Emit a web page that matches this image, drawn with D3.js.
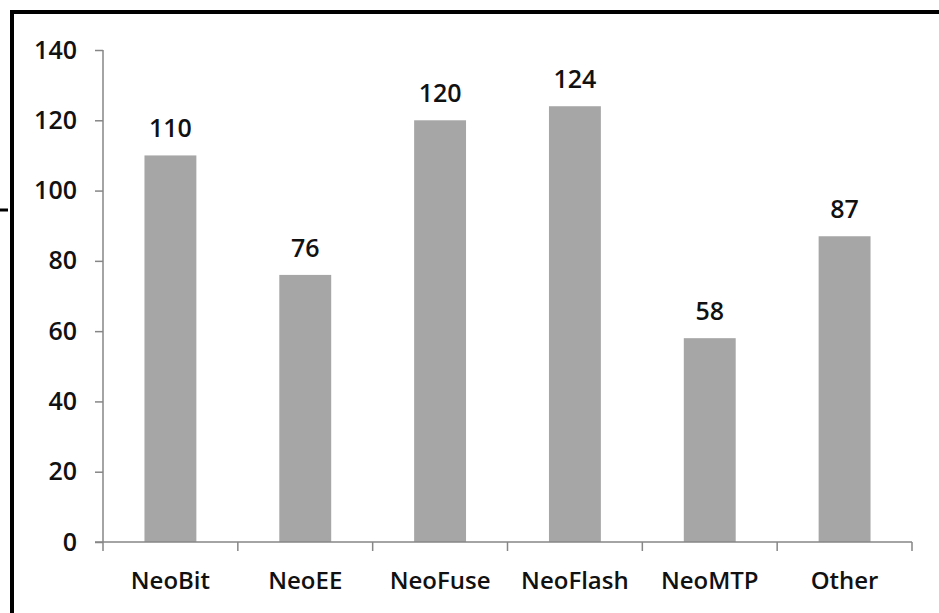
<!DOCTYPE html>
<html><head><meta charset="utf-8">
<script src="https://cdn.jsdelivr.net/npm/d3@7"></script>
<style>body{margin:0;background:#fff;} svg{display:block;}</style>
</head><body>
<svg id="c" width="939" height="613"></svg>
<script>
const categories = ["NeoBit","NeoEE","NeoFuse","NeoFlash","NeoMTP","Other"];
const values = [110, 76, 120, 124, 58, 87];
const yTicks = [0,20,40,60,80,100,120,140];

const svg = d3.select("#c");
const font = "'Open Sans', sans-serif";

// frame
svg.append("line").attr("x1",10).attr("x2",939).attr("y1",12).attr("y2",12).attr("stroke","#000").attr("stroke-width",4);
svg.append("line").attr("x1",12).attr("x2",12).attr("y1",10).attr("y2",613).attr("stroke","#000").attr("stroke-width",4);
svg.append("line").attr("x1",0).attr("x2",8).attr("y1",210).attr("y2",210).attr("stroke","#000").attr("stroke-width",3);

const x = d3.scaleBand().domain(categories).range([103,912]).paddingInner(0.615).paddingOuter(0.3075);
const xb = d3.scaleBand().domain(categories).range([103,912]);
const y = d3.scaleLinear().domain([0,140]).range([542,50]);
const axisColor = "#868686";

// y axis
const ya = svg.append("g").attr("transform","translate(103,0)")
  .call(d3.axisLeft(y).tickValues(yTicks).tickSize(8).tickPadding(18));
ya.select(".domain").attr("stroke",axisColor).attr("stroke-width",1.5).attr("d","M0,50V542");
ya.selectAll(".tick line").attr("stroke",axisColor).attr("stroke-width",1.5);
ya.selectAll(".tick text").attr("fill","#111").attr("font-family",font).attr("font-weight",600).attr("font-size",25);

// bars
svg.append("g").selectAll("rect").data(values).join("rect")
  .attr("x",(d,i)=>x(categories[i])).attr("width",x.bandwidth())
  .attr("y",d=>y(d)).attr("height",d=>y(0)-y(d)).attr("fill","#a6a6a6");

// x axis
const xg = svg.append("g").attr("transform","translate(0,542)");
xg.append("line").attr("x1",95).attr("x2",912).attr("y1",0).attr("y2",0).attr("stroke",axisColor).attr("stroke-width",1.5);
const bounds = categories.map(c=>xb(c)).concat([912]);
xg.selectAll("line.t").data(bounds).join("line").attr("class","t")
  .attr("x1",d=>d).attr("x2",d=>d).attr("y1",0).attr("y2",9).attr("stroke",axisColor).attr("stroke-width",1.5);
xg.selectAll("text").data(categories).join("text")
  .attr("x",d=>xb(d)+xb.bandwidth()/2).attr("y",47).attr("text-anchor","middle")
  .attr("fill","#111").attr("font-family",font).attr("font-weight",600).attr("font-size",24).text(d=>d);

// value labels
svg.append("g").selectAll("text").data(values).join("text")
  .attr("x",(d,i)=>x(categories[i])+x.bandwidth()/2).attr("y",d=>y(d)-18)
  .attr("text-anchor","middle").attr("fill","#111").attr("font-family",font).attr("font-weight",600).attr("font-size",25)
  .text(d=>d);
</script>
</body></html>
